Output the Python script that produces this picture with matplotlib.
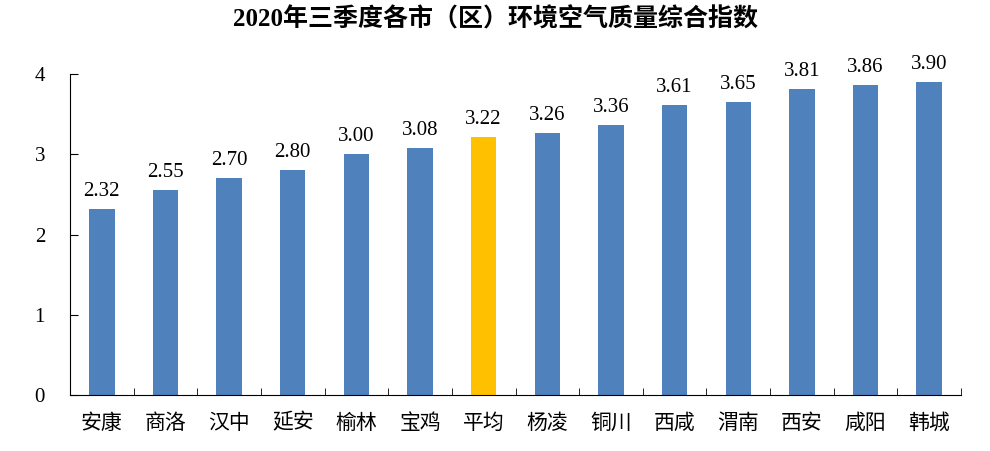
import numpy as np
import matplotlib.pyplot as plt

# données
villes = ['安康', '商洛', '汉中', '延安', '榆林', '宝鸡', '平均', '杨凌',
          '铜川', '西咸', '渭南', '西安', '咸阳', '韩城']
valeurs = [2.32, 2.55, 2.70, 2.80, 3.00, 3.08, 3.22, 3.26,
           3.36, 3.61, 3.65, 3.81, 3.86, 3.90]
titre = '2020年三季度各市（区）环境空气质量综合指数'

serif = ['Liberation Serif', 'Noto Sans CJK SC']
cjk = ['Noto Sans CJK SC', 'DejaVu Sans']

fig = plt.figure(figsize=(9.9, 4.51), dpi=100)
ax = fig.add_axes([70 / 990, 56 / 451, 891 / 990, 321 / 451])

x = np.arange(len(villes))
couleurs = ['#FFC000' if v == '平均' else '#4F81BD' for v in villes]
barres = ax.bar(x, valeurs, width=0.4, color=couleurs)

for b, v in zip(barres, valeurs):
    ax.text(b.get_x() + b.get_width() / 2, v + 0.1, f'{v:.2f}',
            ha='center', va='bottom', fontsize=15, family=serif)

ax.set_xlim(-0.5, len(villes) - 0.5)
ax.set_ylim(0, 4)
ax.set_yticks([0, 1, 2, 3, 4])
ax.set_yticklabels(['0', '1', '2', '3', '4'], family=serif, fontsize=15)
ax.tick_params(axis='y', direction='in', length=6, pad=18)

ax.set_xticks(x)
ax.set_xticklabels(villes, family=cjk, fontsize=15)
ax.tick_params(axis='x', which='major', length=0, pad=12)
ax.set_xticks(np.arange(-0.5, len(villes), 1.0), minor=True)
ax.tick_params(axis='x', which='minor', direction='in', length=5)

for s in ['top', 'right']:
    ax.spines[s].set_visible(False)
ax.spines['left'].set_color('black')
ax.spines['bottom'].set_color('black')

fig.suptitle(titre, y=0.985, fontsize=18, fontweight='bold', family=serif)

fig.savefig('out.png', dpi=100)
